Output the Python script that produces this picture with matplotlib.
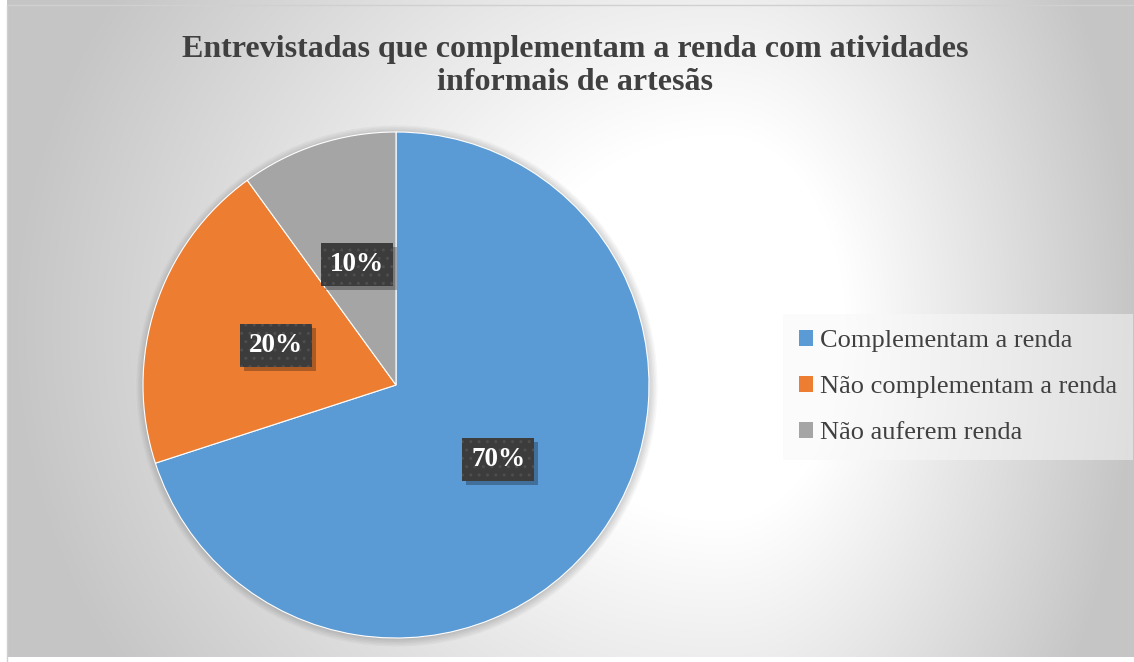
import numpy as np
import matplotlib
matplotlib.use("Agg")
import matplotlib.pyplot as plt
from matplotlib.patches import Circle, Rectangle
from matplotlib.transforms import IdentityTransform

# dados
categorias = ["Complementam a renda", "Não complementam a renda", "Não auferem renda"]
valores = [70, 20, 10]
cores = ["#5B9BD5", "#ED7D31", "#A5A5A5"]
titulo = "Entrevistadas que complementam a renda com atividades\ninformais de artesãs"

W, H = 1134, 662
fig = plt.figure(figsize=(W / 100, H / 100), dpi=100)
fig.patch.set_facecolor("white")

# fundo com gradiente (claro no centro-direita, cinza nas bordas)
bg = fig.add_axes([0, 0, 1, 1], zorder=0)
xx, yy = np.meshgrid(np.arange(W), np.arange(H))
gx, gy = 720, 330
tx = np.where(xx < gx, (gx - xx) / 713.0, (xx - gx) / 414.0)
ty = np.abs(yy - gy) / 650.0
t = np.sqrt(tx ** 2 + ty ** 2)
t = np.clip((t - 0.3) / 0.7, 0, 1)
img = 1.0 * (1 - t) + 0.775 * t
bg.imshow(np.dstack([img, img, img]), extent=[7, W, H - 5, 0], aspect="auto")
bg.set_xlim(0, W)
bg.set_ylim(H, 0)
bg.plot([7, 7, W], [H, 5, 5], color="#D0D0D0", lw=1)
bg.axis("off")

# pizza
cx, cy, r = 396, 385, 253
ax = fig.add_axes([(cx - r) / W, (H - cy - r) / H, 2 * r / W, 2 * r / H], zorder=1)
for k in range(6):
    ax.add_patch(Circle((0.004, -0.004), 1.0 + 0.006 * k, facecolor="black",
                        edgecolor="none", alpha=0.03, zorder=0, clip_on=False))
wedges, texts, autotexts = ax.pie(
    valores, colors=cores, startangle=90, counterclock=False,
    autopct="%d%%", pctdistance=0.5,
    wedgeprops=dict(linewidth=0.8, edgecolor="white", zorder=1),
    textprops=dict(color="white", fontsize=19.5, fontweight="bold",
                   family="Liberation Serif", zorder=4),
)
ax.set_xlim(-1, 1)
ax.set_ylim(-1, 1)
plt.rcParams["hatch.color"] = "#505050"
for at in autotexts:
    at.set_bbox(dict(boxstyle="square,pad=0.33", facecolor="#3C3C3C",
                     edgecolor="#4E4E4E", linewidth=0, hatch=".."))

# sombra das caixas dos rotulos
fig.canvas.draw()
for at in autotexts:
    bb = at.get_bbox_patch().get_window_extent()
    ax.add_patch(Rectangle((bb.x0 + 4, bb.y0 - 4), bb.width, bb.height,
                           transform=IdentityTransform(), facecolor="black",
                           edgecolor="none", alpha=0.28, zorder=3, clip_on=False))

# titulo
fig.text(575 / W, 1 - 66 / H, titulo, ha="center", va="center",
         fontsize=23, fontweight="bold", color="#404040",
         family="Liberation Serif", linespacing=1.2)

# legenda
leg = fig.legend(wedges, categorias, loc="center left",
                 bbox_to_anchor=(783 / W, 1 - 387 / H), borderaxespad=0,
                 prop=dict(family="Liberation Serif", size=19),
                 frameon=True, fancybox=False, framealpha=0.5,
                 facecolor="#F8F8F8", edgecolor="none",
                 handlelength=0.55, handleheight=0.55, handletextpad=0.25,
                 labelspacing=0.9, borderpad=0.6)
for txt in leg.get_texts():
    txt.set_color("#404040")
for h in leg.legend_handles:
    h.set_edgecolor("none")

fig.savefig("out.png", dpi=100)
